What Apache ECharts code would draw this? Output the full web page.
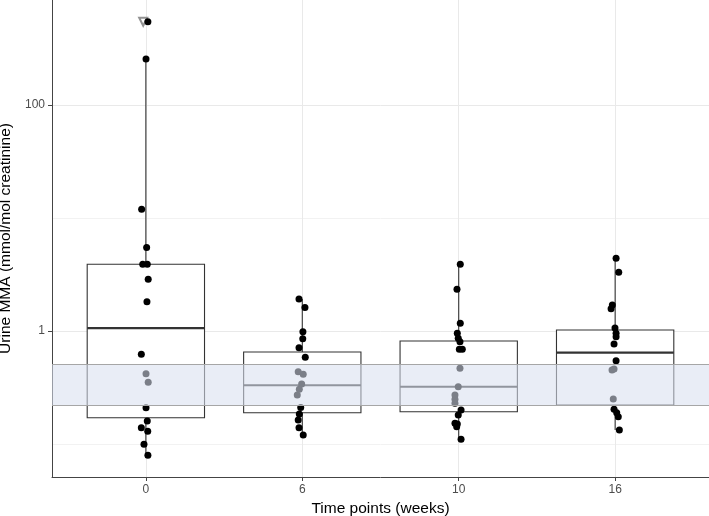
<!DOCTYPE html>
<html>
<head>
<meta charset="utf-8">
<script src="https://cdn.jsdelivr.net/npm/echarts@6/dist/echarts.min.js"></script>
<style>
html,body{margin:0;padding:0;background:#fff;}
#chart{width:709px;height:516px;}
</style>
</head>
<body>
<div id="chart"></div>
<script>
// ---- data ----
const categories = ['0', '6', '10', '16'];

// box statistics per time point (mmol/mol creatinine)
const boxMin    = [0.0794, 0.120, 0.110, 0.133];
const boxQ1     = [0.171, 0.189, 0.193, 0.221];
const boxMedian = [1.06, 0.331, 0.321, 0.643];
const boxQ3     = [3.89, 0.652, 0.816, 1.02];
const boxMax    = [254, 1.92, 3.89, 4.40];

// outlier marker
const outlierGroup  = [0];
const outlierValues = [543];
const outlierJitter = [-0.017];

// individual observations (values) and their horizontal jitter (category units)
const week0Values  = [543, 254, 11.9, 5.46, 3.88, 3.88, 2.87, 1.81, 0.622, 0.419, 0.352, 0.2095, 0.160, 0.139, 0.130, 0.0994, 0.0794];
const week0Jitter  = [0.013, 0.001, -0.027, 0.005, -0.020, 0.009, 0.015, 0.007, -0.029, 0.001, 0.015, 0.001, 0.009, -0.029, 0.012, -0.012, 0.013];
const week6Values  = [1.92, 1.61, 0.986, 0.855, 0.711, 0.585, 0.436, 0.414, 0.340, 0.305, 0.272, 0.210, 0.184, 0.163, 0.139, 0.120];
const week6Jitter  = [-0.021, 0.017, 0.004, 0.003, -0.021, 0.019, -0.026, 0.006, -0.004, -0.019, -0.032, -0.010, -0.019, -0.026, -0.021, 0.006];
const week10Values = [3.89, 2.34, 1.17, 0.954, 0.862, 0.804, 0.689, 0.689, 0.468, 0.321, 0.272, 0.249, 0.229, 0.200, 0.181, 0.153, 0.150, 0.142, 0.110];
const week10Jitter = [0.010, -0.011, 0.010, -0.009, -0.003, 0.008, 0.004, 0.023, 0.008, -0.003, -0.024, -0.024, -0.024, 0.015, -0.003, -0.024, -0.009, -0.013, 0.015];
const week16Values = [4.40, 3.31, 1.70, 1.57, 1.06, 0.954, 0.890, 0.767, 0.546, 0.461, 0.452, 0.250, 0.203, 0.189, 0.174, 0.133];
const week16Jitter = [0.006, 0.023, -0.018, -0.026, -0.001, 0.006, 0.006, -0.007, 0.006, -0.007, -0.020, -0.012, -0.007, 0.010, 0.020, 0.027];

// reference range band
const refLow  = 0.221;
const refHigh = 0.511;

// y axis ticks
const yMajorTicks = [1, 100];
const yMinorTicks = [0.1, 10];
const yMin = 0.0511;
const yMax = 845;

// ---- build ----
const groupValues = [week0Values, week6Values, week10Values, week16Values];
const groupJitter = [week0Jitter, week6Jitter, week10Jitter, week16Jitter];

const boxData = categories.map((c, i) => [i, boxMin[i], boxQ1[i], boxMedian[i], boxQ3[i], boxMax[i]]);
const pointData = [];
groupValues.forEach((vals, g) => {
  vals.forEach((v, k) => pointData.push([g + groupJitter[g][k], v]));
});
const outlierData = outlierValues.map((v, k) => [outlierGroup[k] + outlierJitter[k], v]);

const FONT = 'Liberation Sans, Arial, Helvetica, sans-serif';

const chart = echarts.init(document.getElementById('chart'), null, {renderer: 'canvas'});

const option = {
  animation: false,
  backgroundColor: '#ffffff',
  grid: {left: 52, right: 0, top: 0, bottom: 39, containLabel: false, outerBoundsMode: 'none'},
  xAxis: {
    type: 'value',
    min: -0.6,
    max: 3.6,
    name: 'Time points (weeks)',
    nameLocation: 'middle',
    nameGap: 21,
    nameTextStyle: {fontFamily: FONT, fontSize: 15.5, color: '#000'},
    axisLine: {show: true, onZero: false, lineStyle: {color: '#444', width: 1}},
    axisTick: {show: true, length: 4, customValues: [0, 1, 2, 3], lineStyle: {color: '#444', width: 1}},
    axisLabel: {
      customValues: [0, 1, 2, 3],
      margin: 7,
      fontFamily: FONT, fontSize: 12, color: '#4d4d4d',
      formatter: v => categories[Math.round(v)]
    },
    splitLine: {show: false}
  },
  yAxis: {
    type: 'log',
    logBase: 10,
    min: yMin,
    max: yMax,
    name: 'Urine MMA (mmol/mol creatinine)',
    nameLocation: 'middle',
    nameGap: 32,
    nameRotate: 90,
    nameTextStyle: {fontFamily: FONT, fontSize: 15.5, color: '#000'},
    axisLine: {show: true, onZero: false, lineStyle: {color: '#444', width: 1}},
    axisTick: {show: true, length: 4, customValues: yMajorTicks, lineStyle: {color: '#444', width: 1}},
    axisLabel: {
      customValues: yMajorTicks,
      margin: 7,
      fontFamily: FONT, fontSize: 12, color: '#4d4d4d',
      formatter: v => String(Math.round(v))
    },
    splitLine: {show: false}
  },
  series: [
    {
      // panel grid lines
      type: 'scatter',
      z: 0,
      silent: true,
      symbolSize: 0,
      data: [],
      markLine: {
        z: 0,
        silent: true,
        symbol: 'none',
        label: {show: false},
        animation: false,
        data: [
          ...yMinorTicks.map(v => ({yAxis: v, lineStyle: {color: '#f2f2f2', width: 1, type: 'solid'}})),
          ...yMajorTicks.map(v => ({yAxis: v, lineStyle: {color: '#e9e9e9', width: 1, type: 'solid'}})),
          ...categories.map((c, i) => ({xAxis: i, lineStyle: {color: '#e9e9e9', width: 1, type: 'solid'}}))
        ]
      }
    },
    {
      type: 'custom',
      z: 2,
      silent: true,
      encode: {x: 0, y: [1, 2, 3, 4, 5]},
      data: boxData,
      renderItem: function (params, api) {
        const x = api.value(0);
        const lo = api.value(1), q1 = api.value(2), med = api.value(3), q3 = api.value(4), hi = api.value(5);
        const cx = api.coord([x, med])[0];
        const left = api.coord([x - 0.375, med])[0];
        const right = api.coord([x + 0.375, med])[0];
        const yLo = api.coord([x, lo])[1];
        const yQ1 = api.coord([x, q1])[1];
        const yMed = api.coord([x, med])[1];
        const yQ3 = api.coord([x, q3])[1];
        const yHi = api.coord([x, hi])[1];
        const stroke = '#333333';
        return {
          type: 'group',
          children: [
            {type: 'line', shape: {x1: cx, y1: yQ3, x2: cx, y2: yHi}, style: {stroke: stroke, lineWidth: 1.1}},
            {type: 'line', shape: {x1: cx, y1: yQ1, x2: cx, y2: yLo}, style: {stroke: stroke, lineWidth: 1.1}},
            {type: 'rect', shape: {x: left, y: yQ3, width: right - left, height: yQ1 - yQ3}, style: {fill: '#ffffff', stroke: stroke, lineWidth: 1.1}},
            {type: 'line', shape: {x1: left, y1: yMed, x2: right, y2: yMed}, style: {stroke: stroke, lineWidth: 2.2}}
          ]
        };
      }
    },
    {
      type: 'scatter',
      z: 3,
      silent: true,
      symbol: 'emptyTriangle',
      symbolRotate: 180,
      symbolSize: 8,
      itemStyle: {color: '#777777', borderWidth: 1},
      data: outlierData
    },
    {
      type: 'scatter',
      z: 4,
      silent: true,
      symbol: 'circle',
      symbolSize: 7,
      itemStyle: {color: '#000000', opacity: 1},
      data: pointData
    },
    {
      // reference range band drawn on top
      type: 'scatter',
      z: 10,
      silent: true,
      symbolSize: 0,
      data: [],
      markArea: {
        z: 10,
        silent: true,
        label: {show: false},
        itemStyle: {color: 'rgba(216,224,240,0.57)'},
        data: [[{yAxis: refHigh}, {yAxis: refLow}]]
      },
      markLine: {
        z: 11,
        silent: true,
        symbol: 'none',
        label: {show: false},
        lineStyle: {color: '#a6a6a6', width: 1.2, type: 'solid'},
        data: [{yAxis: refHigh}, {yAxis: refLow}]
      }
    }
  ]
};

chart.setOption(option);
</script>
</body>
</html>
